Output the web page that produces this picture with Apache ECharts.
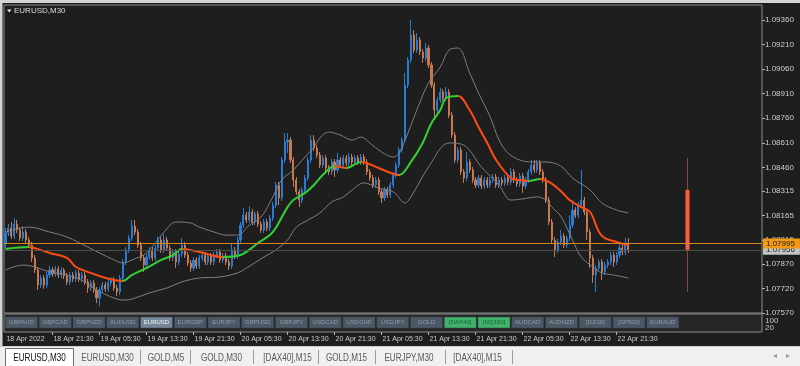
<!DOCTYPE html>
<html><head><meta charset="utf-8">
<script src="https://cdn.jsdelivr.net/npm/echarts/dist/echarts.min.js"></script>
<style>html,body{margin:0;padding:0;background:#1e1e1e;overflow:hidden}#c{width:800px;height:366px}</style>
</head><body><div id="c"></div>
<script>
// ---------------- DATA ----------------
const opens = [1.07998,1.08059,1.08089,1.08040,1.08114,1.08077,1.08028,1.08065,1.08016,1.07985,
1.07906,1.07833,1.07741,1.07784,1.07741,1.07802,1.07833,1.07809,1.07839,1.07802,
1.07833,1.07796,1.07760,1.07802,1.07778,1.07815,1.07778,1.07802,1.07760,1.07723,
1.07754,1.07711,1.07662,1.07711,1.07741,1.07717,1.07754,1.07772,1.07723,1.07699,
1.07784,1.07882,1.07955,1.08028,1.08101,1.08065,1.07985,1.07906,1.07863,1.07912,
1.07955,1.07906,1.07967,1.08016,1.07955,1.08016,1.07967,1.07906,1.07943,1.07882,
1.07931,1.07985,1.07924,1.07876,1.07845,1.07894,1.07857,1.07906,1.07924,1.07882,
1.07918,1.07882,1.07924,1.07943,1.07894,1.07918,1.07882,1.07857,1.07955,1.07918,
1.08016,1.08107,1.08168,1.08138,1.08187,1.08126,1.08175,1.08114,1.08077,1.08126,
1.08089,1.08150,1.08229,1.08352,1.08273,1.08505,1.08615,1.08627,1.08505,1.08383,
1.08310,1.08260,1.08322,1.08395,1.08505,1.08627,1.08578,1.08535,1.08474,1.08517,
1.08456,1.08432,1.08493,1.08444,1.08505,1.08474,1.08517,1.08487,1.08523,1.08493,
1.08517,1.08493,1.08523,1.08493,1.08432,1.08395,1.08352,1.08383,1.08310,1.08273,
1.08322,1.08291,1.08352,1.08413,1.08474,1.08566,1.08627,1.08963,1.09116,1.09268,
1.09177,1.09238,1.09165,1.09128,1.09189,1.09085,1.08963,1.08810,1.08871,1.08921,
1.08884,1.08921,1.08779,1.08657,1.08505,1.08566,1.08432,1.08395,1.08493,1.08444,
1.08383,1.08352,1.08395,1.08346,1.08383,1.08352,1.08383,1.08401,1.08352,1.08383,
1.08365,1.08395,1.08371,1.08432,1.08383,1.08359,1.08407,1.08346,1.08383,1.08432,
1.08474,1.08444,1.08487,1.08432,1.08383,1.08260,1.08126,1.08016,1.07955,1.08004,
1.08040,1.07985,1.08028,1.08107,1.08199,1.08168,1.08229,1.08260,1.08187,1.08065,
1.07906,1.07802,1.07845,1.07882,1.07821,1.07863,1.07882,1.07924,1.07882,1.07924,
1.07967,1.07943,1.07998];
const closes = [1.08059,1.08089,1.08040,1.08114,1.08077,1.08028,1.08065,1.08016,1.07985,1.07906,
1.07833,1.07741,1.07784,1.07741,1.07802,1.07833,1.07809,1.07839,1.07802,1.07833,
1.07796,1.07760,1.07802,1.07778,1.07815,1.07778,1.07802,1.07760,1.07723,1.07754,
1.07711,1.07662,1.07711,1.07741,1.07717,1.07754,1.07772,1.07723,1.07699,1.07784,
1.07882,1.07955,1.08028,1.08101,1.08065,1.07985,1.07906,1.07863,1.07912,1.07955,
1.07906,1.07967,1.08016,1.07955,1.08016,1.07967,1.07906,1.07943,1.07882,1.07931,
1.07985,1.07924,1.07876,1.07845,1.07894,1.07857,1.07906,1.07924,1.07882,1.07918,
1.07882,1.07924,1.07943,1.07894,1.07918,1.07882,1.07857,1.07955,1.07918,1.08016,
1.08107,1.08168,1.08138,1.08187,1.08126,1.08175,1.08114,1.08077,1.08126,1.08089,
1.08150,1.08229,1.08352,1.08273,1.08505,1.08615,1.08627,1.08505,1.08383,1.08310,
1.08260,1.08322,1.08395,1.08505,1.08627,1.08578,1.08535,1.08474,1.08517,1.08456,
1.08432,1.08493,1.08444,1.08505,1.08474,1.08517,1.08487,1.08523,1.08493,1.08517,
1.08493,1.08523,1.08493,1.08432,1.08395,1.08352,1.08383,1.08310,1.08273,1.08322,
1.08291,1.08352,1.08413,1.08474,1.08566,1.08627,1.08963,1.09116,1.09268,1.09177,
1.09238,1.09165,1.09128,1.09189,1.09085,1.08963,1.08810,1.08871,1.08921,1.08884,
1.08921,1.08779,1.08657,1.08505,1.08566,1.08432,1.08395,1.08493,1.08444,1.08383,
1.08352,1.08395,1.08346,1.08383,1.08352,1.08383,1.08401,1.08352,1.08383,1.08365,
1.08395,1.08371,1.08432,1.08383,1.08359,1.08407,1.08346,1.08383,1.08432,1.08474,
1.08444,1.08487,1.08432,1.08383,1.08260,1.08126,1.08016,1.07955,1.08004,1.08040,
1.07985,1.08028,1.08107,1.08199,1.08168,1.08229,1.08260,1.08187,1.08065,1.07906,
1.07802,1.07845,1.07882,1.07821,1.07863,1.07882,1.07924,1.07882,1.07924,1.07967,
1.07943,1.07998,1.07956];
const lows = [1.07967,1.08040,1.08022,1.08022,1.08059,1.08010,1.08010,1.07998,1.07967,1.07882,
1.07815,1.07711,1.07723,1.07717,1.07723,1.07784,1.07790,1.07790,1.07784,1.07784,
1.07778,1.07741,1.07741,1.07760,1.07760,1.07760,1.07760,1.07741,1.07693,1.07705,
1.07693,1.07631,1.07612,1.07693,1.07699,1.07699,1.07735,1.07705,1.07674,1.07680,
1.07766,1.07863,1.07937,1.08010,1.08046,1.07967,1.07888,1.07821,1.07845,1.07894,
1.07888,1.07888,1.07949,1.07937,1.07937,1.07949,1.07888,1.07888,1.07845,1.07863,
1.07912,1.07906,1.07857,1.07821,1.07827,1.07839,1.07839,1.07888,1.07863,1.07863,
1.07863,1.07863,1.07906,1.07876,1.07876,1.07863,1.07833,1.07839,1.07900,1.07900,
1.07998,1.08089,1.08120,1.08120,1.08107,1.08107,1.08095,1.08059,1.08059,1.08071,
1.08071,1.08132,1.08211,1.08229,1.08254,1.08487,1.08548,1.08487,1.08340,1.08291,
1.08217,1.08242,1.08304,1.08377,1.08487,1.08560,1.08517,1.08456,1.08456,1.08426,
1.08413,1.08413,1.08401,1.08426,1.08456,1.08456,1.08468,1.08468,1.08474,1.08474,
1.08474,1.08474,1.08474,1.08413,1.08377,1.08334,1.08334,1.08291,1.08242,1.08254,
1.08273,1.08273,1.08334,1.08395,1.08456,1.08548,1.08609,1.08945,1.09098,1.09159,
1.09159,1.09146,1.09098,1.09110,1.09067,1.08945,1.08767,1.08792,1.08853,1.08865,
1.08865,1.08761,1.08639,1.08487,1.08487,1.08413,1.08365,1.08377,1.08426,1.08365,
1.08334,1.08334,1.08328,1.08328,1.08334,1.08334,1.08365,1.08334,1.08334,1.08346,
1.08346,1.08352,1.08352,1.08365,1.08340,1.08340,1.08304,1.08328,1.08365,1.08413,
1.08426,1.08426,1.08413,1.08365,1.08242,1.08107,1.07998,1.07912,1.07937,1.07985,
1.07967,1.07967,1.08010,1.08089,1.08150,1.08150,1.08211,1.08168,1.08016,1.07845,
1.07754,1.07699,1.07827,1.07772,1.07802,1.07845,1.07863,1.07851,1.07863,1.07906,
1.07924,1.07924,1.07937];
const highs = [1.08089,1.08114,1.08126,1.08150,1.08138,1.08095,1.08101,1.08083,1.08034,1.08004,
1.07924,1.07851,1.07802,1.07802,1.07821,1.07857,1.07851,1.07857,1.07857,1.07851,
1.07845,1.07815,1.07821,1.07821,1.07833,1.07833,1.07821,1.07821,1.07778,1.07772,
1.07772,1.07729,1.07729,1.07760,1.07760,1.07772,1.07790,1.07790,1.07741,1.07802,
1.07900,1.07973,1.08046,1.08138,1.08138,1.08083,1.08004,1.07924,1.07931,1.07973,
1.07973,1.07985,1.08040,1.08034,1.08053,1.08034,1.07985,1.07961,1.07961,1.07949,
1.08028,1.08004,1.07943,1.07894,1.07912,1.07912,1.07924,1.07943,1.07943,1.07937,
1.07937,1.07943,1.07961,1.07961,1.07937,1.07937,1.07900,1.07998,1.07973,1.08034,
1.08126,1.08211,1.08187,1.08223,1.08205,1.08193,1.08193,1.08132,1.08144,1.08144,
1.08168,1.08248,1.08371,1.08371,1.08523,1.08670,1.08670,1.08645,1.08523,1.08401,
1.08328,1.08340,1.08413,1.08523,1.08657,1.08657,1.08596,1.08554,1.08535,1.08535,
1.08474,1.08511,1.08511,1.08548,1.08523,1.08535,1.08535,1.08548,1.08542,1.08535,
1.08535,1.08542,1.08542,1.08511,1.08450,1.08413,1.08401,1.08401,1.08328,1.08340,
1.08340,1.08371,1.08432,1.08493,1.08584,1.08645,1.09037,1.09134,1.09360,1.09299,
1.09281,1.09256,1.09183,1.09220,1.09207,1.09104,1.08982,1.08890,1.08945,1.08939,
1.08951,1.08939,1.08798,1.08676,1.08584,1.08584,1.08450,1.08554,1.08511,1.08462,
1.08401,1.08413,1.08413,1.08401,1.08401,1.08401,1.08420,1.08420,1.08401,1.08401,
1.08413,1.08413,1.08456,1.08450,1.08401,1.08426,1.08426,1.08401,1.08450,1.08505,
1.08505,1.08505,1.08505,1.08450,1.08401,1.08279,1.08144,1.08034,1.08022,1.08077,
1.08059,1.08046,1.08168,1.08260,1.08217,1.08248,1.08444,1.08279,1.08205,1.08083,
1.07924,1.07863,1.07900,1.07900,1.07882,1.07900,1.07943,1.07943,1.07943,1.07998,
1.07985,1.08028,1.08028];
// moving average read at points [bar, price]
const maPoints = [[0,1.07961],[8,1.07973],[12,1.07955],[15,1.07937],[21,1.07906],[24,1.07851],[29,1.07815],[33,1.07790],[37,1.07772],[40,1.07766],[43,1.07802],[48,1.07845],[53,1.07894],[57,1.07924],[60,1.07961],[66,1.07943],[74,1.07912],[80,1.07924],[86,1.07998],[90,1.08046],[92,1.08089],[96,1.08217],[98,1.08260],[102,1.08304],[105,1.08352],[108,1.08413],[112,1.08468],[116,1.08456],[121,1.08493],[127,1.08456],[134,1.08413],[138,1.08493],[142,1.08609],[145,1.08731],[148,1.08810],[150,1.08884],[154,1.08896],[158,1.08810],[161,1.08706],[164,1.08609],[167,1.08505],[172,1.08395],[175,1.08383],[178,1.08377],[182,1.08389],[185,1.08371],[189,1.08316],[192,1.08260],[196,1.08217],[199,1.08187],[202,1.08065],[204,1.08028],[208,1.08004],[212,1.07985]];
const upperBand = [[0,1.08065],[8,1.08095],[15,1.08065],[21,1.08034],[28,1.07973],[32,1.07937],[37,1.07894],[40,1.07876],[43,1.07894],[48,1.07937],[54,1.08065],[58,1.08126],[63,1.08120],[66,1.08095],[71,1.08065],[75,1.08046],[79,1.08046],[83,1.08107],[87,1.08156],[91,1.08279],[94,1.08383],[98,1.08444],[101,1.08505],[105,1.08584],[107,1.08639],[110,1.08676],[114,1.08657],[118,1.08627],[121,1.08645],[124,1.08609],[128,1.08554],[132,1.08523],[134,1.08548],[137,1.08670],[140,1.08810],[144,1.08976],[148,1.09073],[151,1.09177],[154,1.09189],[158,1.09037],[161,1.08915],[165,1.08767],[168,1.08627],[171,1.08548],[175,1.08505],[179,1.08493],[184,1.08493],[189,1.08468],[193,1.08395],[199,1.08322],[203,1.08242],[208,1.08199],[212,1.08181]];
const lowerBand = [[0,1.07833],[6,1.07863],[10,1.07851],[15,1.07821],[21,1.07802],[27,1.07760],[31,1.07711],[36,1.07668],[40,1.07649],[43,1.07655],[49,1.07693],[55,1.07723],[60,1.07760],[66,1.07784],[73,1.07790],[79,1.07815],[82,1.07845],[88,1.07912],[92,1.07955],[96,1.08016],[99,1.08095],[103,1.08138],[107,1.08181],[111,1.08248],[115,1.08279],[118,1.08322],[122,1.08365],[127,1.08334],[132,1.08310],[136,1.08242],[138,1.08279],[144,1.08462],[151,1.08609],[156,1.08596],[162,1.08462],[168,1.08352],[172,1.08260],[176,1.08267],[181,1.08279],[184,1.08260],[186,1.08217],[189,1.08162],[193,1.08016],[196,1.07912],[200,1.07851],[203,1.07815],[207,1.07802],[212,1.07784]];
// daily candle [open, close, low, high]
const dailyCandle = [1.08322, 1.07956, 1.07699, 1.08517];
const askPrice = 1.07995;
const bidPrice = 1.07956;
const priceTicks = [1.0757,1.0772,1.0787,1.08015,1.08165,1.08315,1.0846,1.0861,1.0876,1.0891,1.0906,1.0921,1.0936];
const symbols = ['GBPAUD','GBPCAD','GBPNZD','AUDUSD','EURUSD','EURGBP','EURJPY','GBPUSD','GBPJPY','USDCAD','USDCHF','USDJPY','GOLD','[DAX40]','[NQ100]','AUDCAD','AUDNZD','[DJI30]','[SP500]','EURAUD'];
const activeSymbol = 'EURUSD';
const greenSymbols = ['[DAX40]','[NQ100]'];
const tabs = ['EURUSD,M30','EURUSD,M30','GOLD,M5','GOLD,M30','[DAX40],M15','GOLD,M15','EURJPY,M30','[DAX40],M15'];
const subScale = ['100','20'];

// ---------------- BUILD ----------------
const SLOTS = 258;            // bars + right shift
const DAILY_SLOT = 232;
const months = ['Jan','Feb','Mar','Apr','May','Jun','Jul','Aug','Sep','Oct','Nov','Dec'];
const pad = n => (n < 10 ? '0' : '') + n;
const t0 = Date.UTC(2022, 3, 18, 13, 30);
const categories = [];
for (let i = 0; i < SLOTS; i++) {
  const d = new Date(t0 + i * 1800000);
  categories.push(d.getUTCDate() + ' ' + months[d.getUTCMonth()] + ' ' + pad(d.getUTCHours()) + ':' + pad(d.getUTCMinutes()));
}
const firstLabel = (() => { const d = new Date(t0); return d.getUTCDate() + ' ' + months[d.getUTCMonth()] + ' ' + d.getUTCFullYear(); })();
const showTime = (i) => i < opens.length && (i === 0 || /(05|13|21):30$/.test(categories[i]));

const candles = opens.map((o, i) => [o, closes[i], lows[i], highs[i]]);

const GREEN = '#33d033', ORANGE = '#ff4a12';
const pieces = [];
for (let k = 0; k < maPoints.length - 1; k++) {
  const a = maPoints[k], b = maPoints[k + 1];
  const p = { gte: a[0], color: b[1] >= a[1] ? GREEN : ORANGE };
  if (k < maPoints.length - 2) p.lt = b[0]; else p.lte = b[0];
  pieces.push(p);
}

const BULL = '#2a7bd3', BEAR = '#c8794f';
const FONT = '"Liberation Sans", Arial, sans-serif';

const graphics = [];
// window frame strips
graphics.push({ type: 'rect', shape: { x: 0, y: 0, width: 800, height: 3 }, style: { fill: '#d4d4d4' }, z: 100 });
graphics.push({ type: 'rect', shape: { x: 0, y: 0, width: 2.5, height: 346 }, style: { fill: '#d4d4d4' }, z: 100 });
// title
graphics.push({ type: 'polygon', shape: { points: [[7, 9.5], [11.5, 9.5], [9.25, 12.5]] }, style: { fill: '#e6e6e6' }, z: 100 });
graphics.push({ type: 'text', x: 14, y: 11, style: { text: 'EURUSD,M30', fill: '#dcdcdc', font: '8px ' + FONT, verticalAlign: 'middle' }, z: 100 });
// buttons
symbols.forEach((s, i) => {
  const x = 5.5 + 33.75 * i;
  let bg = '#4c5866', fg = '#909cab';
  if (s === activeSymbol) { bg = '#75879a'; fg = '#f2f4f6'; }
  if (greenSymbols.indexOf(s) >= 0) { bg = '#3fb36a'; fg = '#1b5a2f'; }
  graphics.push({ type: 'rect', shape: { x: x, y: 317, width: 32, height: 11 }, style: { fill: bg, stroke: '#3a434d', lineWidth: 0.5 }, z: 100 });
  graphics.push({ type: 'text', x: x + 16, y: 322.8, style: { text: s, fill: fg, font: '6px ' + FONT, align: 'center', verticalAlign: 'middle' }, z: 101 });
});
// sub-window scale
subScale.forEach((t, k) => {
  graphics.push({ type: 'text', x: 765, y: 321 + k * 7, style: { text: t, fill: '#c8c8c8', font: '8px ' + FONT, verticalAlign: 'middle' }, z: 100 });
});
// tab bar
graphics.push({ type: 'rect', shape: { x: 0, y: 346, width: 800, height: 20 }, style: { fill: '#f0f0f0' }, z: 100 });
graphics.push({ type: 'line', shape: { x1: 0, y1: 346.5, x2: 800, y2: 346.5 }, style: { stroke: '#cfcfcf', lineWidth: 1 }, z: 101 });
graphics.push({ type: 'rect', shape: { x: 5.5, y: 348.5, width: 68, height: 18 }, style: { fill: '#ffffff', stroke: '#6e6e6e', lineWidth: 1 }, z: 101 });
const tabCenters = [39.5, 107.5, 166, 221.5, 287.5, 346.5, 409, 477.5];
const tabSeps = [140, 190, 253, 318, 375, 445, 512];
tabs.forEach((t, i) => {
  graphics.push({ type: 'text', x: tabCenters[i], y: 357.5, scaleX: 0.74, style: { text: t, fill: i === 0 ? '#101010' : '#5a5a5a', font: '11px ' + FONT, align: 'center', verticalAlign: 'middle' }, z: 102 });
});
tabSeps.forEach(x => graphics.push({ type: 'line', shape: { x1: x + 0.5, y1: 350, x2: x + 0.5, y2: 364 }, style: { stroke: '#9c9c9c', lineWidth: 1 }, z: 102 }));
graphics.push({ type: 'text', x: 775, y: 356, style: { text: '◂', fill: '#9a9a9a', font: '8px ' + FONT, align: 'center', verticalAlign: 'middle' }, z: 102 });
graphics.push({ type: 'text', x: 788, y: 356, style: { text: '▸', fill: '#9a9a9a', font: '8px ' + FONT, align: 'center', verticalAlign: 'middle' }, z: 102 });

const tagLabel = (txt, bg, fg) => ({
  show: true, position: 'end', distance: 1,
  formatter: () => txt,
  backgroundColor: bg, color: fg, padding: [1, 5, 1, 3], fontSize: 8, fontFamily: FONT
});

const option = {
  animation: false,
  backgroundColor: '#1e1e1e',
  grid: [
    { left: 4, top: 5, width: 758, height: 308, show: true, borderColor: '#8c8c8c', borderWidth: 1, backgroundColor: '#1e1e1e' },
    { left: 4, top: 314, width: 758, height: 18, show: true, borderColor: '#8c8c8c', borderWidth: 1, backgroundColor: '#262626' }
  ],
  xAxis: [
    { type: 'category', gridIndex: 0, data: categories, boundaryGap: true,
      axisLine: { show: false }, axisTick: { show: false }, axisLabel: { show: false }, splitLine: { show: false } },
    { type: 'category', gridIndex: 1, data: categories, boundaryGap: true,
      axisLine: { show: false },
      axisTick: { show: true, alignWithLabel: true, interval: (i) => showTime(i) && i > 0, length: 3, lineStyle: { color: '#b4b4b4' } },
      axisLabel: { show: true, interval: (i) => showTime(i), formatter: (v, i) => i === 0 ? firstLabel : v,
        align: 'left', color: '#cdcdcd', fontSize: 7, fontFamily: FONT, margin: 4, padding: [0, 0, 0, 1] },
      splitLine: { show: false } }
  ],
  yAxis: [
    { type: 'value', gridIndex: 0, position: 'right', min: 1.0757, max: 1.09452, scale: true,
      axisLine: { show: false }, splitLine: { show: false },
      axisTick: { show: true, customValues: priceTicks, length: 3, lineStyle: { color: '#b4b4b4' } },
      axisLabel: { show: true, customValues: priceTicks, formatter: v => Number(v).toFixed(5), color: '#cdcdcd', fontSize: 8, fontFamily: FONT, margin: 3 } },
    { type: 'value', gridIndex: 1, min: 0, max: 100, show: false }
  ],
  visualMap: [{ type: 'piecewise', show: false, seriesIndex: 2, dimension: 0, pieces: pieces }],
  series: [
    { type: 'candlestick', name: 'EURUSD', xAxisIndex: 0, yAxisIndex: 0, data: candles, barWidth: 1.6,
      itemStyle: { color: BULL, color0: BEAR, borderColor: BULL, borderColor0: BEAR, borderWidth: 1 },
      markLine: { silent: true, symbol: ['none', 'none'], animation: false, precision: 5,
        data: [
          { yAxis: bidPrice, lineStyle: { color: '#4e4e4e', type: 'solid', width: 1 }, label: tagLabel(bidPrice.toFixed(5), '#c4c4c4', '#222222') },
          { yAxis: askPrice, lineStyle: { color: '#d4861c', type: 'solid', width: 1 }, label: tagLabel(askPrice.toFixed(5), '#f39a12', '#1a1a1a') }
        ] } },
    { type: 'custom', name: 'Daily', xAxisIndex: 0, yAxisIndex: 0,
      data: [[DAILY_SLOT].concat(dailyCandle)],
      encode: { x: 0, y: [1, 2, 3, 4] },
      renderItem: (params, api) => {
        const x = api.value(0);
        const pO = api.coord([x, api.value(1)]), pC = api.coord([x, api.value(2)]);
        const pL = api.coord([x, api.value(3)]), pH = api.coord([x, api.value(4)]);
        const cx = Math.round(pO[0]) + 0.5;
        return { type: 'group', children: [
          { type: 'line', shape: { x1: cx, y1: pH[1], x2: cx, y2: pL[1] }, style: { stroke: '#8e4736', lineWidth: 1 } },
          { type: 'rect', shape: { x: cx - 2, y: Math.min(pO[1], pC[1]), width: 4, height: Math.abs(pC[1] - pO[1]) }, style: { fill: '#ff5c45' } }
        ] };
      } },
    { type: 'line', name: 'MA', xAxisIndex: 0, yAxisIndex: 0, data: maPoints, smooth: 0.35, showSymbol: false,
      lineStyle: { width: 2 }, z: 4 },
    { type: 'line', name: 'Upper', xAxisIndex: 0, yAxisIndex: 0, data: upperBand, smooth: 0.35, showSymbol: false,
      lineStyle: { width: 1, color: '#7e7e7e' }, itemStyle: { color: '#7e7e7e' }, z: 3 },
    { type: 'line', name: 'Lower', xAxisIndex: 0, yAxisIndex: 0, data: lowerBand, smooth: 0.35, showSymbol: false,
      lineStyle: { width: 1, color: '#7e7e7e' }, itemStyle: { color: '#7e7e7e' }, z: 3 }
  ],
  graphic: graphics
};
const chart = echarts.init(document.getElementById('c'));
chart.setOption(option);
</script>
</body></html>
